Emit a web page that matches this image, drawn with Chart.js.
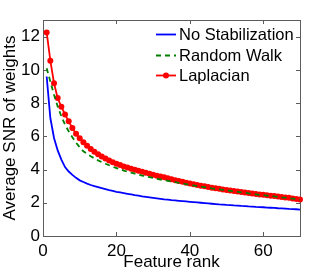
<!DOCTYPE html>
<html>
<head>
<meta charset="utf-8">
<script src="https://cdn.jsdelivr.net/npm/chart.js@4.4.0/dist/chart.umd.min.js"></script>
<style>
html, body { margin: 0; padding: 0; background: #fff; }
</style>
</head>
<body>
<canvas id="myChart" width="332" height="274"></canvas>
<script>
// feature rank (x)
var rank = [1, 2, 3, 4, 5, 6, 7, 8, 9, 10, 11, 12, 13, 14, 15, 16, 17, 18, 19, 20,
  21, 22, 23, 24, 25, 26, 27, 28, 29, 30, 31, 32, 33, 34, 35, 36, 37, 38, 39, 40,
  41, 42, 43, 44, 45, 46, 47, 48, 49, 50, 51, 52, 53, 54, 55, 56, 57, 58, 59, 60,
  61, 62, 63, 64, 65, 66, 67, 68, 69, 70];

var noStab = [9.6, 7.1, 5.9, 5.15, 4.6, 4.15, 3.88, 3.68, 3.5, 3.35, 3.25, 3.15, 3.07, 3.0, 2.94, 2.88, 2.82, 2.76, 2.71, 2.66,
  2.62, 2.58, 2.54, 2.5, 2.46, 2.43, 2.39, 2.36, 2.33, 2.3, 2.27, 2.24, 2.21, 2.19, 2.16, 2.14, 2.12, 2.1, 2.08, 2.06,
  2.04, 2.02, 2.0, 1.98, 1.96, 1.94, 1.92, 1.9, 1.89, 1.87, 1.86, 1.84, 1.83, 1.81, 1.8, 1.78, 1.77, 1.75, 1.74, 1.73,
  1.71, 1.7, 1.69, 1.67, 1.66, 1.65, 1.63, 1.62, 1.61, 1.59];

var randomWalk = [10.1, 9.3, 8.5, 7.8, 7.2, 6.7, 6.3, 5.95, 5.62, 5.34, 5.1, 4.95, 4.8, 4.67, 4.55, 4.45, 4.35, 4.26, 4.17, 4.09,
  4.01, 3.94, 3.87, 3.81, 3.75, 3.69, 3.64, 3.59, 3.54, 3.49, 3.44, 3.4, 3.36, 3.32, 3.28, 3.24, 3.2, 3.16, 3.12, 3.08,
  3.04, 3.0, 2.97, 2.94, 2.91, 2.87, 2.84, 2.81, 2.78, 2.75, 2.72, 2.69, 2.66, 2.63, 2.6, 2.57, 2.54, 2.51, 2.48, 2.46,
  2.43, 2.41, 2.38, 2.36, 2.33, 2.31, 2.28, 2.25, 2.22, 2.19];

var laplacian = [12.25, 10.55, 9.2, 8.3, 7.78, 7.32, 6.9, 6.5, 6.15, 5.88, 5.64, 5.43, 5.24, 5.07, 4.92, 4.78, 4.66, 4.55, 4.44, 4.35,
  4.27, 4.19, 4.12, 4.05, 3.98, 3.92, 3.86, 3.8, 3.74, 3.69, 3.63, 3.58, 3.53, 3.47, 3.42, 3.36, 3.31, 3.26, 3.21, 3.16,
  3.12, 3.07, 3.03, 2.99, 2.95, 2.91, 2.87, 2.84, 2.8, 2.77, 2.74, 2.71, 2.68, 2.65, 2.62, 2.59, 2.56, 2.53, 2.5, 2.48,
  2.45, 2.42, 2.4, 2.37, 2.35, 2.32, 2.3, 2.26, 2.23, 2.2];

var xTicks = [0, 20, 40, 60];
var yTicks = [0, 2, 4, 6, 8, 10, 12];

var FONT = "'Liberation Sans', Arial, sans-serif";
var AXIS_COLOR = '#5c5c5c';

function pts(ys) {
  return rank.map(function (r, i) { return { x: r, y: ys[i] }; });
}

// matlab style box + inward ticks, legend inside the axes
var matlabAxes = {
  id: 'matlabAxes',
  beforeDatasetsDraw: function (chart) {
    var ctx = chart.ctx, a = chart.chartArea;
    var xs = chart.scales.x, ys = chart.scales.y;
    ctx.save();
    ctx.strokeStyle = AXIS_COLOR;
    ctx.lineWidth = 1;
    ctx.beginPath();
    xs.ticks.forEach(function (t) {
      var px = Math.round(xs.getPixelForValue(t.value)) + 0.5;
      ctx.moveTo(px, a.bottom); ctx.lineTo(px, a.bottom - 4);
      ctx.moveTo(px, a.top); ctx.lineTo(px, a.top + 4);
    });
    ys.ticks.forEach(function (t) {
      var py = Math.round(ys.getPixelForValue(t.value)) + 0.5;
      ctx.moveTo(a.left, py); ctx.lineTo(a.left + 4, py);
      ctx.moveTo(a.right, py); ctx.lineTo(a.right - 4, py);
    });
    ctx.stroke();
    ctx.strokeRect(Math.round(a.left) + 0.5, Math.round(a.top) + 0.5,
      Math.round(a.right - a.left), Math.round(a.bottom - a.top));
    ctx.restore();
  },
  afterDraw: function (chart) {
    var ctx = chart.ctx, a = chart.chartArea;
    var x0 = a.right - 144, x1 = a.right - 124, tx = a.right - 121;
    var rows = [a.top + 14, a.top + 35, a.top + 55];
    ctx.save();
    ctx.font = '16.5px ' + FONT;
    ctx.textBaseline = 'middle';
    chart.data.datasets.forEach(function (ds, i) {
      var y = rows[i] + 0.5;
      ctx.strokeStyle = ds.borderColor;
      ctx.lineWidth = ds.borderWidth;
      ctx.setLineDash(ds.borderDash || []);
      ctx.beginPath();
      ctx.moveTo(x0, y); ctx.lineTo(x1, y);
      ctx.stroke();
      ctx.setLineDash([]);
      if (ds.pointRadius > 0) {
        ctx.fillStyle = ds.pointBackgroundColor;
        ctx.beginPath();
        ctx.arc((x0 + x1) / 2, y, ds.pointRadius, 0, Math.PI * 2);
        ctx.fill();
      }
      ctx.fillStyle = '#000';
      ctx.fillText(ds.label, tx, y + 1);
    });
    ctx.restore();
  }
};

var myChart = document.getElementById('myChart').getContext('2d');
var chart = new Chart(myChart, {
  type: 'line',
  data: {
    datasets: [{
      label: 'No Stabilization',
      data: pts(noStab),
      borderColor: '#0000ff',
      borderWidth: 1.8,
      pointRadius: 0,
      tension: 0
    }, {
      label: 'Random Walk',
      data: pts(randomWalk),
      borderColor: '#008000',
      borderWidth: 1.8,
      borderDash: [5, 4],
      pointRadius: 0,
      tension: 0
    }, {
      label: 'Laplacian',
      data: pts(laplacian),
      borderColor: '#ff0000',
      backgroundColor: '#ff0000',
      pointBackgroundColor: '#ff0000',
      pointBorderColor: '#ff0000',
      borderWidth: 1.8,
      pointRadius: 3,
      pointBorderWidth: 0,
      tension: 0
    }]
  },
  options: {
    responsive: false,
    animation: false,
    clip: false,
    layout: { padding: { top: 20, right: 32, left: 0, bottom: 0 } },
    plugins: {
      legend: { display: false },
      tooltip: { enabled: false }
    },
    scales: {
      x: {
        type: 'linear',
        min: 0,
        max: 70,
        afterBuildTicks: function (s) { s.ticks = xTicks.map(function (v) { return { value: v }; }); },
        afterFit: function (s) { s.height = 38; },
        grid: { display: false, drawTicks: false },
        border: { display: false },
        ticks: { color: '#000', padding: 5, maxRotation: 0, font: { family: FONT, size: 17 } },
        title: {
          display: true,
          text: 'Feature rank',
          color: '#000',
          padding: { top: 0, bottom: 1 },
          font: { family: FONT, size: 17 }
        }
      },
      y: {
        type: 'linear',
        min: 0,
        max: 13,
        afterBuildTicks: function (s) { s.ticks = yTicks.map(function (v) { return { value: v }; }); },
        afterFit: function (s) { s.width = 43; },
        grid: { display: false, drawTicks: false },
        border: { display: false },
        ticks: { color: '#000', padding: 3, font: { family: FONT, size: 17 } },
        title: {
          display: true,
          text: 'Average SNR of weights',
          color: '#000',
          padding: { top: 0, bottom: 0 },
          font: { family: FONT, size: 17 }
        }
      }
    }
  },
  plugins: [matlabAxes]
});
</script>
</body>
</html>
